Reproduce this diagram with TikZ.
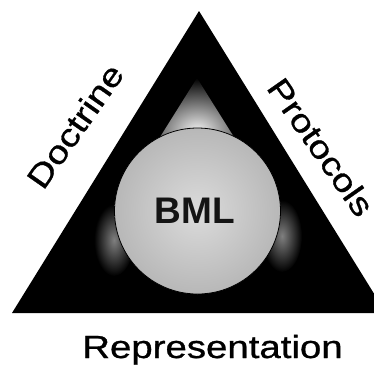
\documentclass[tikz,border=0pt]{standalone}
\usepackage{fontspec}
\setmainfont{Liberation Sans}
\newfontfamily\lblfont{Liberation Sans}[FakeBold=0.8]
\begin{document}
\begin{tikzpicture}[x=1pt,y=-1pt,
  lbl/.style={font=\lblfont\fontsize{32}{38}\selectfont, inner sep=0pt, text=black},
  glow/.style={inner color=#1, outer color=black}]
\useasboundingbox (0,0) rectangle (374,368);
\clip (0,0) rectangle (374,368);
% triangle
\coordinate (apex) at (199,11);
\coordinate (bl) at (12,313);
\coordinate (br) at (386,313);
\fill[black] (apex) -- (bl) -- (br) -- cycle;
% glows
\shade[glow=black!4] (197,78) -- (130,185) -- (264,185) -- cycle;
\shade[glow=black!50] (114,240) ellipse [x radius=20, y radius=36];
\shade[glow=black!50] (282,236) ellipse [x radius=20, y radius=36];
% circle
\node (circ) [circle, minimum size=166pt, inner sep=0pt, draw=black, line width=0.8pt,
  inner color=black!14, outer color=black!28] at (197.5,211) {};
\node (bml) [font=\fontsize{37}{40}\selectfont\bfseries, text=black!92, inner sep=0pt] at (195,211) {BML};
% labels
\node (doc) [lbl, rotate=55] at (75,126) {\scalebox{1.2}[1]{Doctrine}};
\node (prot) [lbl, rotate=-55] at (321,147) {\scalebox{1.2}[1]{Protocols}};
\node (rep) [lbl, anchor=base] at (212.5,358) {\scalebox{1.2}[1]{Representation}};
\end{tikzpicture}
\end{document}
